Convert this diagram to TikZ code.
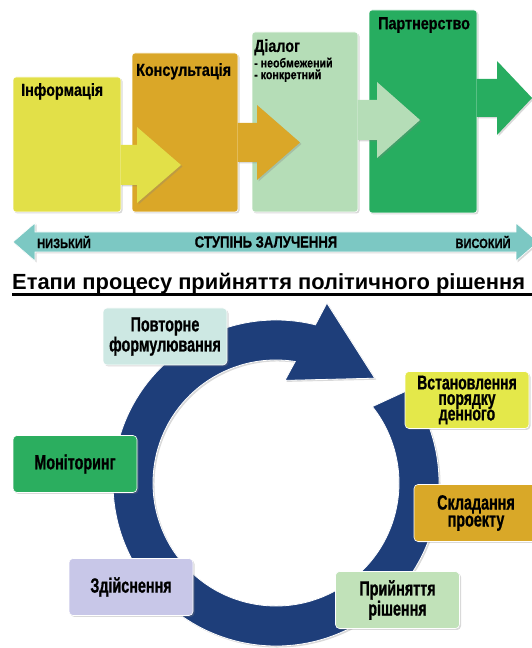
\documentclass[tikz,border=0pt]{standalone}
\usepackage{fontspec}
\setmainfont{Liberation Sans}
\newfontfamily\stagefont[FakeStretch=0.82, FakeBold=0.6]{Liberation Sans Bold}
\newfontfamily\phasefont[FakeStretch=0.7, FakeBold=0.8]{Liberation Sans Bold}
\usetikzlibrary{shadows,positioning}

\definecolor{infoyellow}{RGB}{226,224,72}
\definecolor{consultorange}{RGB}{218,167,40}
\definecolor{dialoggreen}{RGB}{181,221,183}
\definecolor{partnergreen}{RGB}{39,173,96}
\definecolor{scaleteal}{RGB}{124,200,195}
\definecolor{ringblue}{RGB}{30,62,122}
\definecolor{reformcyan}{RGB}{205,232,227}
\definecolor{agendayellow}{RGB}{228,232,74}
\definecolor{monitorgreen}{RGB}{43,174,95}
\definecolor{draftorange}{RGB}{217,168,40}
\definecolor{implementlav}{RGB}{200,199,232}
\definecolor{adoptgreen}{RGB}{193,226,185}

\def\steparrow[#1](#2,#3)(#4:#5:#6:#7){\fill[#1] (#2,#3+#4) -- (#5,#3+#4) -- (#5,#3+#6) -- (#7,#3) -- (#5,#3-#6) -- (#5,#3-#4) -- (#2,#3-#4) -- cycle;}

\tikzset{
	boxshade/.style={drop shadow={opacity=0.3, shadow xshift=1.5pt, shadow yshift=-1.5pt}},
	stagebox/.style={draw=white, line width=0.6pt, rounded corners=3pt, boxshade},
	stagelabel/.style={anchor=north west, inner sep=0pt, font=\stagefont\fontsize{17.5}{18}\selectfont},
	sublabel/.style={anchor=north west, inner sep=0pt, font=\stagefont\fontsize{13}{14}\selectfont},
	scalelabel/.style={inner sep=0pt, font=\stagefont\fontsize{13.5}{15}\selectfont},
	phasebox/.style={draw=white, line width=0.6pt, rounded corners=4pt, minimum width=124pt, minimum height=57pt, inner sep=1pt, align=center, font=\phasefont\fontsize{20.5}{17}\selectfont, boxshade}
}

\begin{document}
\begin{tikzpicture}[x=1pt, y=1pt]
			%%%%% START %%%%%
			\useasboundingbox (0,0) rectangle (532,648);
			\clip (0,0) rectangle (532,648);
			
			% stages of involvement
			\draw[stagebox, fill=infoyellow] (13,436) rectangle (121,571);
			\draw[stagebox, fill=consultorange] (132,436) rectangle (238,595);
			\steparrow[infoyellow, boxshade](120.5,483)(20:137:38:181)
			
			\draw[stagebox, fill=dialoggreen] (252,436) rectangle (358,616);
			\steparrow[consultorange, boxshade](237.5,505.5)(19.5:257:37.5:300)
			
			\draw[stagebox, fill=partnergreen] (369,435) rectangle (477,638);
			\steparrow[dialoggreen, boxshade](357.5,528)(20:377:38:420)
			\steparrow[partnergreen, boxshade](476.5,550)(19:497:37:532)
			
			\node[stagelabel] (info) at (21,565) {Інформація};
			\node[stagelabel] (consult) at (136,585) {Консультація};
			\node[stagelabel] (dialog) at (254,609) {Діалог};
			\node[sublabel] (dialog-a) at ([yshift=-2pt]dialog.south west) {- необмежений};
			\node[sublabel] (dialog-b) at ([yshift=-1.5pt]dialog-a.south west) {- конкретний};
			\node[stagelabel] (partner) at (378,631) {Партнерство};
			
			% scale of involvement
			\fill[scaleteal, draw=white, line width=0.6pt, boxshade] (13,406) -- (35,425) -- (35,416) -- (516,416) -- (516,425) -- (538,406) -- (516,387) -- (516,396) -- (35,396) -- (35,387) -- cycle;
			\node[scalelabel] (low) at (64,406) {НИЗЬКИЙ};
			\node[scalelabel, font=\stagefont\fontsize{16}{17}\selectfont] (degree) at (266,406) {СТУПІНЬ ЗАЛУЧЕННЯ};
			\node[scalelabel] (high) at (483,406) {ВИСОКИЙ};
			
			% title
			\node[anchor=base west, inner sep=0pt, font=\bfseries\fontsize{21.9}{24}\selectfont] (title) at (12,358) {Етапи процесу прийняття політичного рішення};
			\draw[line width=3pt] (12,353) -- (532,353);
			
			% policy cycle
			\coordinate (hub) at (276,165);
			\fill[ringblue, draw=white, line width=0.8pt, boxshade] ([shift={(35:163)}]hub) arc[start angle=35, end angle=-284, radius=163] -- ([shift={(74.2:187)}]hub) -- ([shift={(46.7:144)}]hub) -- ([shift={(85:103)}]hub) -- ([shift={(-279:123)}]hub) arc[start angle=-279, end angle=38.4, radius=123] -- cycle;
			
			\node[phasebox, fill=reformcyan] (reform) at (165,311.5) {Повторне\\формулювання};
			\node[phasebox, fill=agendayellow, font=\phasefont\fontsize{20}{15.5}\selectfont] (agenda) at (467,248) {Встановлення\\порядку\\денного};
			\node[phasebox, fill=monitorgreen] (monitor) at (75,184) {Моніторинг};
			\node[phasebox, fill=draftorange] (draft) at (476,135) {Складання\\проекту};
			\node[phasebox, fill=implementlav] (implement) at (131,61) {Здійснення};
			\node[phasebox, fill=adoptgreen] (adopt) at (397.5,48) {Прийняття\\рішення};
			
			%%%%% END %%%%%
\end{tikzpicture}
\end{document}
